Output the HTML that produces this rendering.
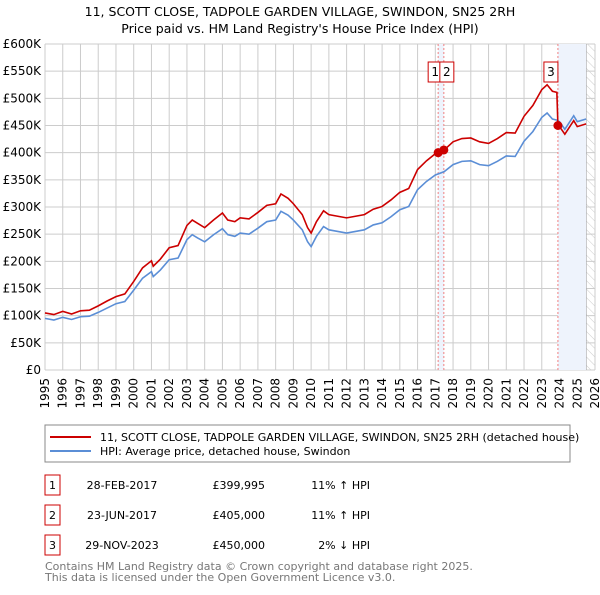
<!DOCTYPE html>
<html><head><meta charset="utf-8"><style>
body{margin:0;background:#fff;font-family:"Liberation Sans","DejaVu Sans",sans-serif;}
svg text{font-family:"DejaVu Sans","Liberation Sans",sans-serif;}
</style></head><body>
<svg id="chart" width="600" height="590" xmlns="http://www.w3.org/2000/svg">
<text x="300" y="16" text-anchor="middle" font-size="12.5" fill="#000">11, SCOTT CLOSE, TADPOLE GARDEN VILLAGE, SWINDON, SN25 2RH</text>
<text x="300" y="33" text-anchor="middle" font-size="12.5" fill="#000">Price paid vs. HM Land Registry's House Price Index (HPI)</text>
<defs><pattern id="hatch" width="6" height="6" patternUnits="userSpaceOnUse" patternTransform="rotate(-45)"><line x1="0" y1="0" x2="0" y2="6" stroke="#ccc" stroke-width="1"/></pattern></defs>
<g id="grid"></g><g id="bands"></g><g id="series"></g><g id="axes"></g>
<rect x="45" y="425" width="525" height="37" fill="#fff" stroke="#888"/>
<line x1="50" y1="437" x2="91" y2="437" stroke="#cc0000" stroke-width="2"/>
<text x="100" y="441" font-size="11">11, SCOTT CLOSE, TADPOLE GARDEN VILLAGE, SWINDON, SN25 2RH (detached house)</text>
<line x1="50" y1="451" x2="91" y2="451" stroke="#5b8ed6" stroke-width="2"/>
<text x="100" y="455" font-size="11">HPI: Average price, detached house, Swindon</text>
<g font-size="11">
<rect x="45" y="475" width="15" height="20" fill="none" stroke="#cc0000"/><text x="52.5" y="489" text-anchor="middle">1</text>
<text x="122" y="489" text-anchor="middle">28-FEB-2017</text><text x="265" y="489" text-anchor="end">£399,995</text><text x="370" y="489" text-anchor="end">11% ↑ HPI</text>
<rect x="45" y="505" width="15" height="20" fill="none" stroke="#cc0000"/><text x="52.5" y="519" text-anchor="middle">2</text>
<text x="122" y="519" text-anchor="middle">23-JUN-2017</text><text x="265" y="519" text-anchor="end">£405,000</text><text x="370" y="519" text-anchor="end">11% ↑ HPI</text>
<rect x="45" y="535" width="15" height="20" fill="none" stroke="#cc0000"/><text x="52.5" y="549" text-anchor="middle">3</text>
<text x="122" y="549" text-anchor="middle">29-NOV-2023</text><text x="265" y="549" text-anchor="end">£450,000</text><text x="370" y="549" text-anchor="end">2% ↓ HPI</text>
</g>
<text x="45" y="570" font-size="11" fill="#777">Contains HM Land Registry data © Crown copyright and database right 2025.</text>
<text x="45" y="581" font-size="11" fill="#777">This data is licensed under the Open Government Licence v3.0.</text>
</svg>
<script>
const years=[1995,1995.5,1996,1996.5,1997,1997.5,1998,1998.5,1999,1999.5,2000,2000.5,2001,2001.1,2001.5,2002,2002.5,2003,2003.3,2003.6,2004,2004.5,2005,2005.3,2005.7,2006,2006.5,2007,2007.5,2008,2008.3,2008.7,2009,2009.5,2009.8,2010.0,2010.3,2010.7,2011,2011.5,2012,2012.5,2013,2013.5,2014,2014.5,2015,2015.5,2016,2016.5,2017,2017.5,2018,2018.5,2019,2019.5,2020,2020.5,2021,2021.5,2022,2022.5,2023,2023.3,2023.6,2023.85,2024,2024.3,2024.8,2025,2025.5];
const hpiValues=[95,92,97,93,98,99,106,114,122,126,147,169,181,172,184,203,206,240,249,243,236,249,260,249,246,252,250,261,273,276,292,285,276,258,236,227,246,264,258,255,252,255,258,267,271,282,295,301,332,347,359,365,378,384,385,378,376,384,394,393,421,439,465,473,462,460,457,443,468,457,462];
const priceYears=[1995,1995.5,1996,1996.5,1997,1997.5,1998,1998.5,1999,1999.5,2000,2000.5,2001,2001.1,2001.5,2002,2002.5,2003,2003.3,2003.6,2004,2004.5,2005,2005.3,2005.7,2006,2006.5,2007,2007.5,2008,2008.3,2008.7,2009,2009.5,2009.8,2010.0,2010.3,2010.7,2011,2011.5,2012,2012.5,2013,2013.5,2014,2014.5,2015,2015.5,2016,2016.5,2017,2017.5,2018,2018.5,2019,2019.5,2020,2020.5,2021,2021.5,2022,2022.5,2023,2023.3,2023.6,2023.85,2023.91,2024,2024.3,2024.8,2025,2025.5];
const priceValues=[105,102,108,103,109,110,118,127,135,140,163,188,201,191,204,225,229,266,276,270,262,276,289,276,273,280,278,290,303,306,324,316,306,286,262,252,273,293,286,283,280,283,286,296,301,313,327,334,369,385,398,405,420,426,427,420,417,426,437,436,467,487,516,525,513,511,450,448,434,459,448,453];
const saleYears=[2017.16,2017.48,2023.91];
const salePrices=[399.995,405,450];
const saleLabels=["1","2","3"];
const yTicks=[0,50,100,150,200,250,300,350,400,450,500,550,600];
const yTickLabels=["£0","£50K","£100K","£150K","£200K","£250K","£300K","£350K","£400K","£450K","£500K","£550K","£600K"];
const NS="http://www.w3.org/2000/svg";
const X=y=>45+(y-1995)*(550/31);
const Y=v=>370-v*(326/600);
function mk(tag,attrs,parent){const e=document.createElementNS(NS,tag);for(const k in attrs)e.setAttribute(k,attrs[k]);parent.appendChild(e);return e;}
const grid=document.getElementById('grid'),bands=document.getElementById('bands'),series=document.getElementById('series'),axes=document.getElementById('axes');
const dataEnd=2025.5;
for(let yr=1995;yr<=2026;yr++){
 const l=mk('line',{x1:X(yr),x2:X(yr),y1:Y(600),y2:Y(0),stroke:'#ccc','stroke-width':1},grid);
 
 
 const t=mk('text',{x:0,y:0,'font-size':12,'text-anchor':'end',transform:`translate(${X(yr)+4},${378}) rotate(-90)`},axes);
 t.textContent=yr;
 
 
}
yTicks.forEach((v,i)=>{
 const l=mk('line',{x1:X(1995),x2:X(2026),y1:Y(v),y2:Y(v),stroke:'#ccc','stroke-width':1},grid);
 
 
 const t=mk('text',{x:41,y:Y(v)+4,'font-size':12,'text-anchor':'end'},axes);
 t.textContent=yTickLabels[i];
 
 
});
const h=mk('rect',{x:X(dataEnd),y:Y(600),width:X(2026)-X(dataEnd),height:Y(0)-Y(600),fill:'url(#hatch)'},bands);


mk('line',{x1:X(dataEnd),x2:X(dataEnd),y1:Y(600),y2:Y(0),stroke:'#999'},bands);
const b1=mk('rect',{x:X(saleYears[0]),y:Y(600),width:X(saleYears[1])-X(saleYears[0]),height:Y(0)-Y(600),fill:'#eef3fc'},bands);


const b2=mk('rect',{x:X(saleYears[2]),y:Y(600),width:X(dataEnd)-X(saleYears[2]),height:Y(0)-Y(600),fill:'#eef3fc'},bands);


saleYears.forEach(s=>{
 const l=mk('line',{x1:X(s),x2:X(s),y1:Y(600),y2:Y(0),stroke:'#f08080','stroke-dasharray':'2,2'},bands);
 
 
});
const hp=mk('polyline',{points:years.map((y,i)=>X(y)+','+Y(hpiValues[i])).join(' '),fill:'none',stroke:'#5b8ed6','stroke-width':1.6},series);


const pp=mk('polyline',{points:priceYears.map((y,i)=>X(y)+','+Y(priceValues[i])).join(' '),fill:'none',stroke:'#cc0000','stroke-width':1.6},series);


saleYears.forEach((s,i)=>{
 const c=mk('circle',{cx:X(s),cy:Y(salePrices[i]),r:4.5,fill:'#cc0000'},series);
 
 
 const bx=X(s)+(i==0?-10:(i==1?-4:-14));
 const r=mk('rect',{x:bx,y:62,width:14,height:20,fill:'#fff',stroke:'#cc0000'},series);
 
 
 const t=mk('text',{x:bx+7,y:76,'font-size':12,'text-anchor':'middle'},series);
 t.textContent=saleLabels[i];
 
 
});
</script>
</body></html>
